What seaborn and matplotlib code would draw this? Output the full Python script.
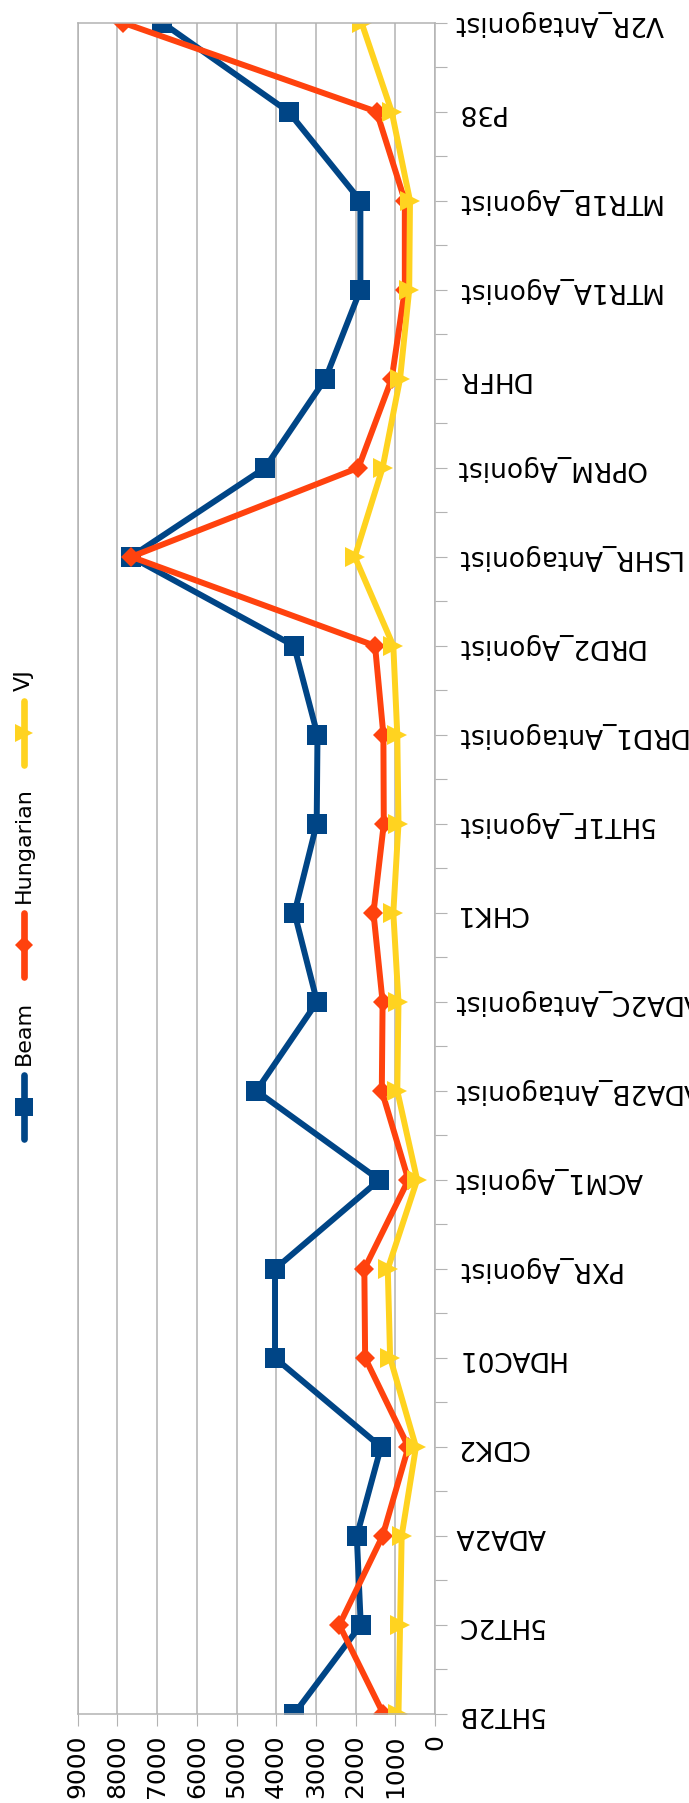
import numpy as np
import pandas as pd
import matplotlib
matplotlib.use("Agg")
import matplotlib.pyplot as plt
import seaborn as sns

# Targets, listed from the bottom of the category axis to the top
categories = ["5HT2B", "5HT2C", "ADA2A", "CDK2", "HDAC01", "PXR_Agonist",
              "ACM1_Agonist", "ADA2B_Antagonist", "ADA2C_Antagonist", "CHK1",
              "5HT1F_Agonist", "DRD1_Antagonist", "DRD2_Agonist",
              "LSHR_Antagonist", "OPRM_Agonist", "DHFR", "MTR1A_Agonist",
              "MTR1B_Agonist", "P38", "V2R_Antagonist"]
beam = [3550, 1870, 1970, 1360, 4030, 4030, 1400, 4500, 2970, 3540,
        2980, 2960, 3550, 7660, 4280, 2760, 1880, 1880, 3690, 6870]
hungarian = [1300, 2410, 1320, 670, 1760, 1780, 670, 1340, 1320, 1550,
             1290, 1300, 1510, 7650, 1930, 1090, 760, 760, 1470, 7860]
vj = [920, 880, 840, 480, 1130, 1190, 450, 950, 920, 1050,
      920, 950, 1050, 2020, 1320, 880, 650, 630, 1090, 1850]
series_names = ["Beam", "Hungarian", "VJ"]
value_ticks = list(range(0, 9001, 1000))

colors = {"Beam": "#004586", "Hungarian": "#ff420e", "VJ": "#ffd320"}
markers = {"Beam": "s", "Hungarian": "D", "VJ": ">"}
marker_sizes = {"s": 15, "D": 10.2, ">": 14.4}
GRID = "#b3b3b3"

sns.set_style("white")
plt.rcParams["font.family"] = ["DejaVu Sans"]

df = pd.DataFrame({
    "category": categories * 3,
    "pos": list(range(len(categories))) * 3,
    "value": beam + hungarian + vj,
    "series": np.repeat(series_names, len(categories)),
})

W, H = 689, 1803
fig = plt.figure(figsize=(W / 100, H / 100), dpi=100)
x0, x1, y0, y1 = 77.7, 435.0, 22.7, 1714.0
ax = fig.add_axes([x0 / W, 1 - y1 / H, (x1 - x0) / W, (y1 - y0) / H])

sns.lineplot(data=df, x="value", y="pos", hue="series", style="series",
             hue_order=series_names, style_order=series_names,
             palette=colors, markers=markers, dashes=False,
             orient="y", sort=False, estimator=None,
             linewidth=4.3, markeredgewidth=0, legend=False, ax=ax)
for line in ax.lines:
    m = line.get_marker()
    if m in marker_sizes:
        line.set_markersize(marker_sizes[m])
    line.set_solid_joinstyle("miter")

ax.set_xlim(9000, 0)
ax.set_ylim(0, len(categories) - 1)
ax.set_xlabel("")
ax.set_ylabel("")

# value axis along the bottom
ax.set_xticks(value_ticks)
ax.set_xticklabels([str(v) for v in value_ticks], rotation=90)
ax.tick_params(axis="x", bottom=True, length=8.6, width=0.8, color=GRID,
               labelsize=18, pad=6, labelcolor="black")

# category axis on the right
ax.yaxis.tick_right()
ax.set_yticks(range(len(categories)))
ax.set_yticks(np.arange(0.5, len(categories) - 1, 1.0), minor=True)
ax.set_yticklabels(categories, rotation=180, ha="left", va="center")
ax.tick_params(axis="y", which="both", right=True, left=False, length=8.6,
               width=0.8, color=GRID, labelsize=19, pad=6, labelcolor="black")

ax.set_axisbelow(True)
ax.grid(axis="x", color=GRID, linewidth=1.1)
ax.grid(axis="y", visible=False)
for side in ["left", "right", "top", "bottom"]:
    ax.spines[side].set_visible(True)
    ax.spines[side].set_color(GRID)
    ax.spines[side].set_linewidth(1.1)

# legend strip along the left edge, drawn in pixel coordinates
lax = fig.add_axes([0, 0, 1, 1])
lax.set_xlim(0, W)
lax.set_ylim(H, 0)
lax.axis("off")
lax.patch.set_alpha(0)
legend_rows = [("Beam", 1107, 1065), ("Hungarian", 945, 903), ("VJ", 733, 691)]
for name, ymid, ytext in legend_rows:
    mk = markers[name]
    lax.plot([24, 24, 24], [ymid - 32, ymid, ymid + 32], color=colors[name],
             linewidth=4.8, marker=mk, markevery=[1],
             markersize=marker_sizes[mk] * 0.9, markeredgewidth=0)
    lax.text(24, ytext, name, rotation=90, ha="center", va="bottom",
             fontsize=16, color="black")

fig.savefig("out.png", dpi=100)
